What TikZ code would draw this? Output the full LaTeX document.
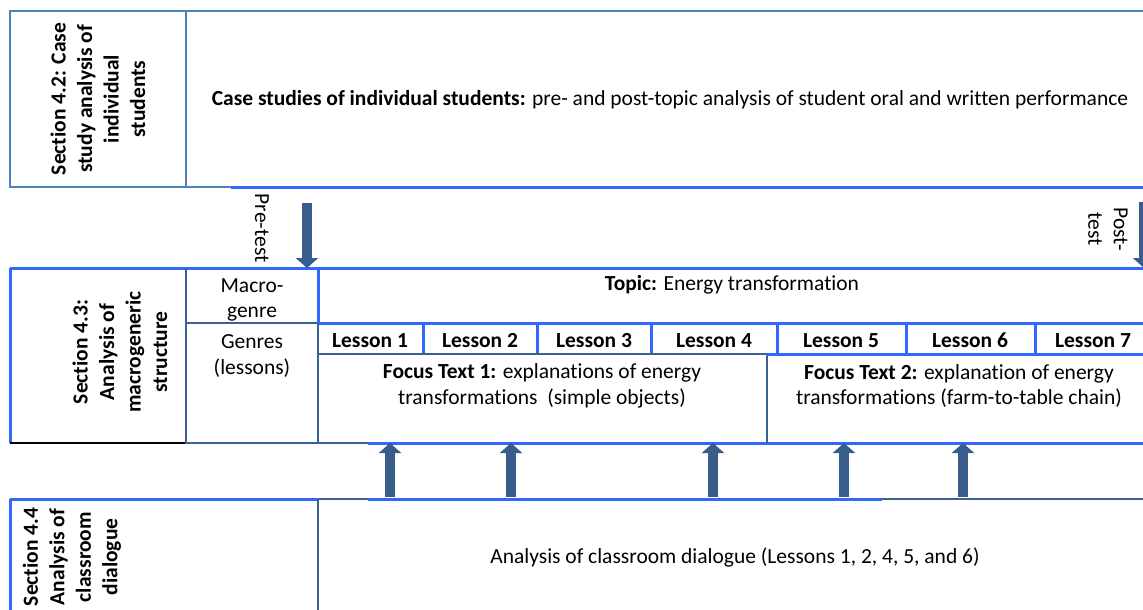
\documentclass[tikz,border=0pt]{standalone}
\usepackage{fontspec}
\setmainfont{Carlito}[Ligatures=NoCommon]
\usetikzlibrary{arrows.meta}
\definecolor{hellblau}{HTML}{3366FF}
\definecolor{stahl}{HTML}{3A6393}
\definecolor{rahmen}{HTML}{4F81BD}
\definecolor{pfeil}{HTML}{385D8A}

\begin{document}
\begin{tikzpicture}[x=1pt, y=-1pt,
  every node/.style={font=\fontsize{21.5}{25.5}\selectfont, inner sep=0pt, align=center},
  dick/.style={draw=hellblau, line width=3pt},
  duenn/.style={draw=stahl, line width=1.5pt},
  sek/.style={rotate=90, font=\fontsize{21.5}{26.5}\selectfont\bfseries},
  lektion/.style={anchor=base, font=\fontsize{21.5}{25.5}\selectfont\bfseries},
  pfeilblock/.style={draw=pfeil, line width=10pt, -{Triangle[width=22pt,length=10pt]}}]

  \useasboundingbox (0,0) rectangle (1143,610);
  \clip (0,0) rectangle (1143,610);

  % Hier stehen die Zeichen-Befehle.
  \coordinate (pre1) at (307,203);
  \coordinate (pre2) at (307,268);
  \coordinate (post1) at (1144,202);
  \coordinate (post2) at (1144,268);
  \coordinate (a1) at (390,497);
  \coordinate (b1) at (390,443);
  \coordinate (a2) at (511,497);
  \coordinate (b2) at (511,443);
  \coordinate (a4) at (713,497);
  \coordinate (b4) at (713,443);
  \coordinate (a5) at (844,497);
  \coordinate (b5) at (844,443);
  \coordinate (a6) at (963,497);
  \coordinate (b6) at (963,443);

  % oberer Block
  \draw[rahmen, line width=1.5pt] (1143,11) -- (10,11) -- (10,187) -- (231,187);
  \draw[rahmen, line width=1.5pt] (186,11) -- (186,187);
  \draw[dick] (231,187) -- (1143,187);

  % mittlerer Block
  \draw[dick] (10,268) -- (1143,268);
  \draw[dick] (10,268) -- (10,443);
  \draw[black, line width=1.5pt] (10,443) -- (186,443);
  \draw[duenn] (186,268) -- (186,443) -- (368,443);
  \draw[dick] (368,443) -- (1143,443);
  \draw[duenn] (186,323) -- (318,323);
  \draw[dick] (318,268) -- (318,323) -- (1143,323);
  \draw[duenn] (318,323) -- (318,443);
  \foreach \xx in {423,537,651,777,906,1035}
    \draw[dick] (\xx,323) -- (\xx,354);
  \draw[duenn] (318,354) -- (767,354) -- (767,443);
  \draw[dick] (767,354) -- (1143,354);

  % unterer Block
  \draw[dick] (10,499) -- (318,499);
  \draw[duenn] (318,499) -- (368,499);
  \draw[dick] (368,499) -- (882,499);
  \draw[duenn] (882,499) -- (1143,499);
  \draw[dick] (10,499) -- (10,612);
  \draw[duenn] (318,499) -- (318,612);

  \node[sek] (s42) at (98,99) {Section 4.2: Case\\study analysis of\\individual\\students};
  \node (fall) at (670,100) {\textbf{Case studies of individual students:} pre- and post-topic analysis of student oral and written performance};
  \node[rotate=-90] (pre) at (262,228) {Pre-test};
  \node[rotate=-90] (post) at (1108,229) {Post-\\test};

  \node[sek] (s43) at (120,352) {Section 4.3:\\Analysis of\\macrogeneric\\structure};
  \node (makro) at (252,300) {Macro-\\genre};
  \node (genres) at (252,356) {Genres\\(lessons)};
  \node[anchor=base] (thema) at (732,290) {\textbf{Topic:} Energy transformation};
  \node[lektion] (l1) at (370,347) {Lesson 1};
  \node[lektion] (l2) at (480,347) {Lesson 2};
  \node[lektion] (l3) at (594,347) {Lesson 3};
  \node[lektion] (l4) at (714,347) {Lesson 4};
  \node[lektion] (l5) at (841,347) {Lesson 5};
  \node[lektion] (l6) at (970,347) {Lesson 6};
  \node[lektion] (l7) at (1093,347) {Lesson 7};
  \node (fokus1) at (542,386) {\textbf{Focus Text 1:} explanations of energy\\transformations~~(simple objects)};
  \node (fokus2) at (959,386) {\textbf{Focus Text 2:} explanation of energy\\transformations (farm-to-table chain)};

  \node[sek] (s44) at (72,557) {Section 4.4\\Analysis of\\classroom\\dialogue};
  \node (dialog) at (735,557) {Analysis of classroom dialogue (Lessons 1, 2, 4, 5, and 6)};

  \draw[pfeilblock] (pre1) -- (pre2);
  \draw[pfeilblock] (post1) -- (post2);
  \draw[pfeilblock] (a1) -- (b1);
  \draw[pfeilblock] (a2) -- (b2);
  \draw[pfeilblock] (a4) -- (b4);
  \draw[pfeilblock] (a5) -- (b5);
  \draw[pfeilblock] (a6) -- (b6);

\end{tikzpicture}
\end{document}
